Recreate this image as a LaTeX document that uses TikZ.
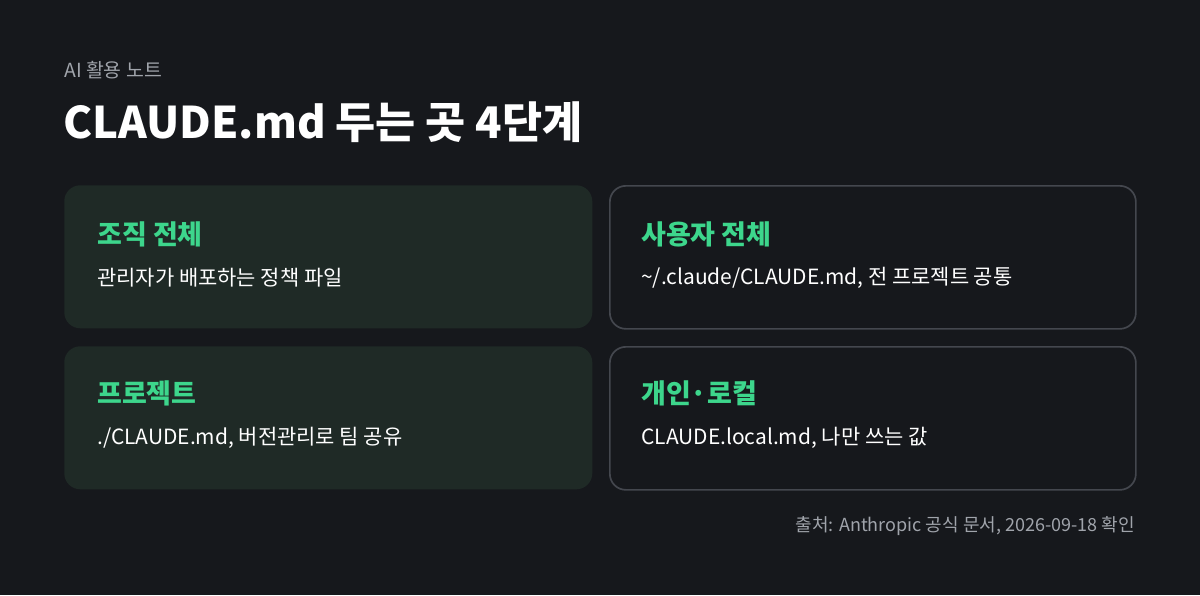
\documentclass[tikz,border=0pt]{standalone}
\usepackage{fontspec}
\setmainfont{Noto Sans CJK KR}
\usetikzlibrary{positioning}
\definecolor{bgdark}{HTML}{16181C}
\definecolor{cardgreen}{HTML}{1F2A26}
\definecolor{cardline}{HTML}{44474E}
\definecolor{headgreen}{HTML}{3DD68C}
\definecolor{mutedgray}{HTML}{A0A4AB}
\begin{document}
\begin{tikzpicture}[
    x=0.025cm, y=-0.025cm,
    card/.style={rectangle, rounded corners=16*0.025cm, minimum width=528*0.025cm, minimum height=143*0.025cm, anchor=north west},
    filled/.style={card, fill=cardgreen},
    outlined/.style={card, draw=cardline, line width=1.2pt, fill=bgdark, minimum width=526*0.025cm},
    head/.style={anchor=west, inner sep=0pt, text=headgreen, font=\fontsize{19.2}{22}\selectfont\bfseries},
    sub/.style={anchor=west, inner sep=0pt, text=white, font=\fontsize{14.9}{17}\selectfont}
]
\fill[bgdark] (0,0) rectangle (1200,595);
% Kopf
\node[anchor=west, inner sep=0pt, text=mutedgray, font=\fontsize{13.8}{15}\selectfont] (kicker) at (64,70) {AI 활용 노트};
\node[anchor=west, inner sep=0pt, text=white, font=\fontsize{31}{34}\selectfont\bfseries] (title) at (63,122) {CLAUDE.md 두는 곳 4단계};
% Karten
\node[filled] (org) at (64,185) {};
\node[outlined] (user) at (609,185) {};
\node[filled] (proj) at (64,346) {};
\node[outlined] (local) at (609,346) {};
\node[head] (orgh) at (97,234) {조직 전체};
\node[sub] (orgs) at (97,278) {관리자가 배포하는 정책 파일};
\node[head] (userh) at (641,234) {사용자 전체};
\node[sub] (users) at (641,278) {\textasciitilde/.claude/CLAUDE.md, 전 프로젝트 공통};
\node[head] (projh) at (97,393) {프로젝트};
\node[sub] (projs) at (97,438) {./CLAUDE.md, 버전관리로 팀 공유};
\node[head] (localh) at (641,393) {개인·로컬};
\node[sub] (locals) at (641,438) {CLAUDE.local.md, 나만 쓰는 값};
% Quelle
\node[anchor=east, inner sep=0pt, text=mutedgray, font=\fontsize{12.8}{14}\selectfont] (src) at (1135,526) {출처: Anthropic 공식 문서, 2026-09-18 확인};
\end{tikzpicture}
\end{document}
